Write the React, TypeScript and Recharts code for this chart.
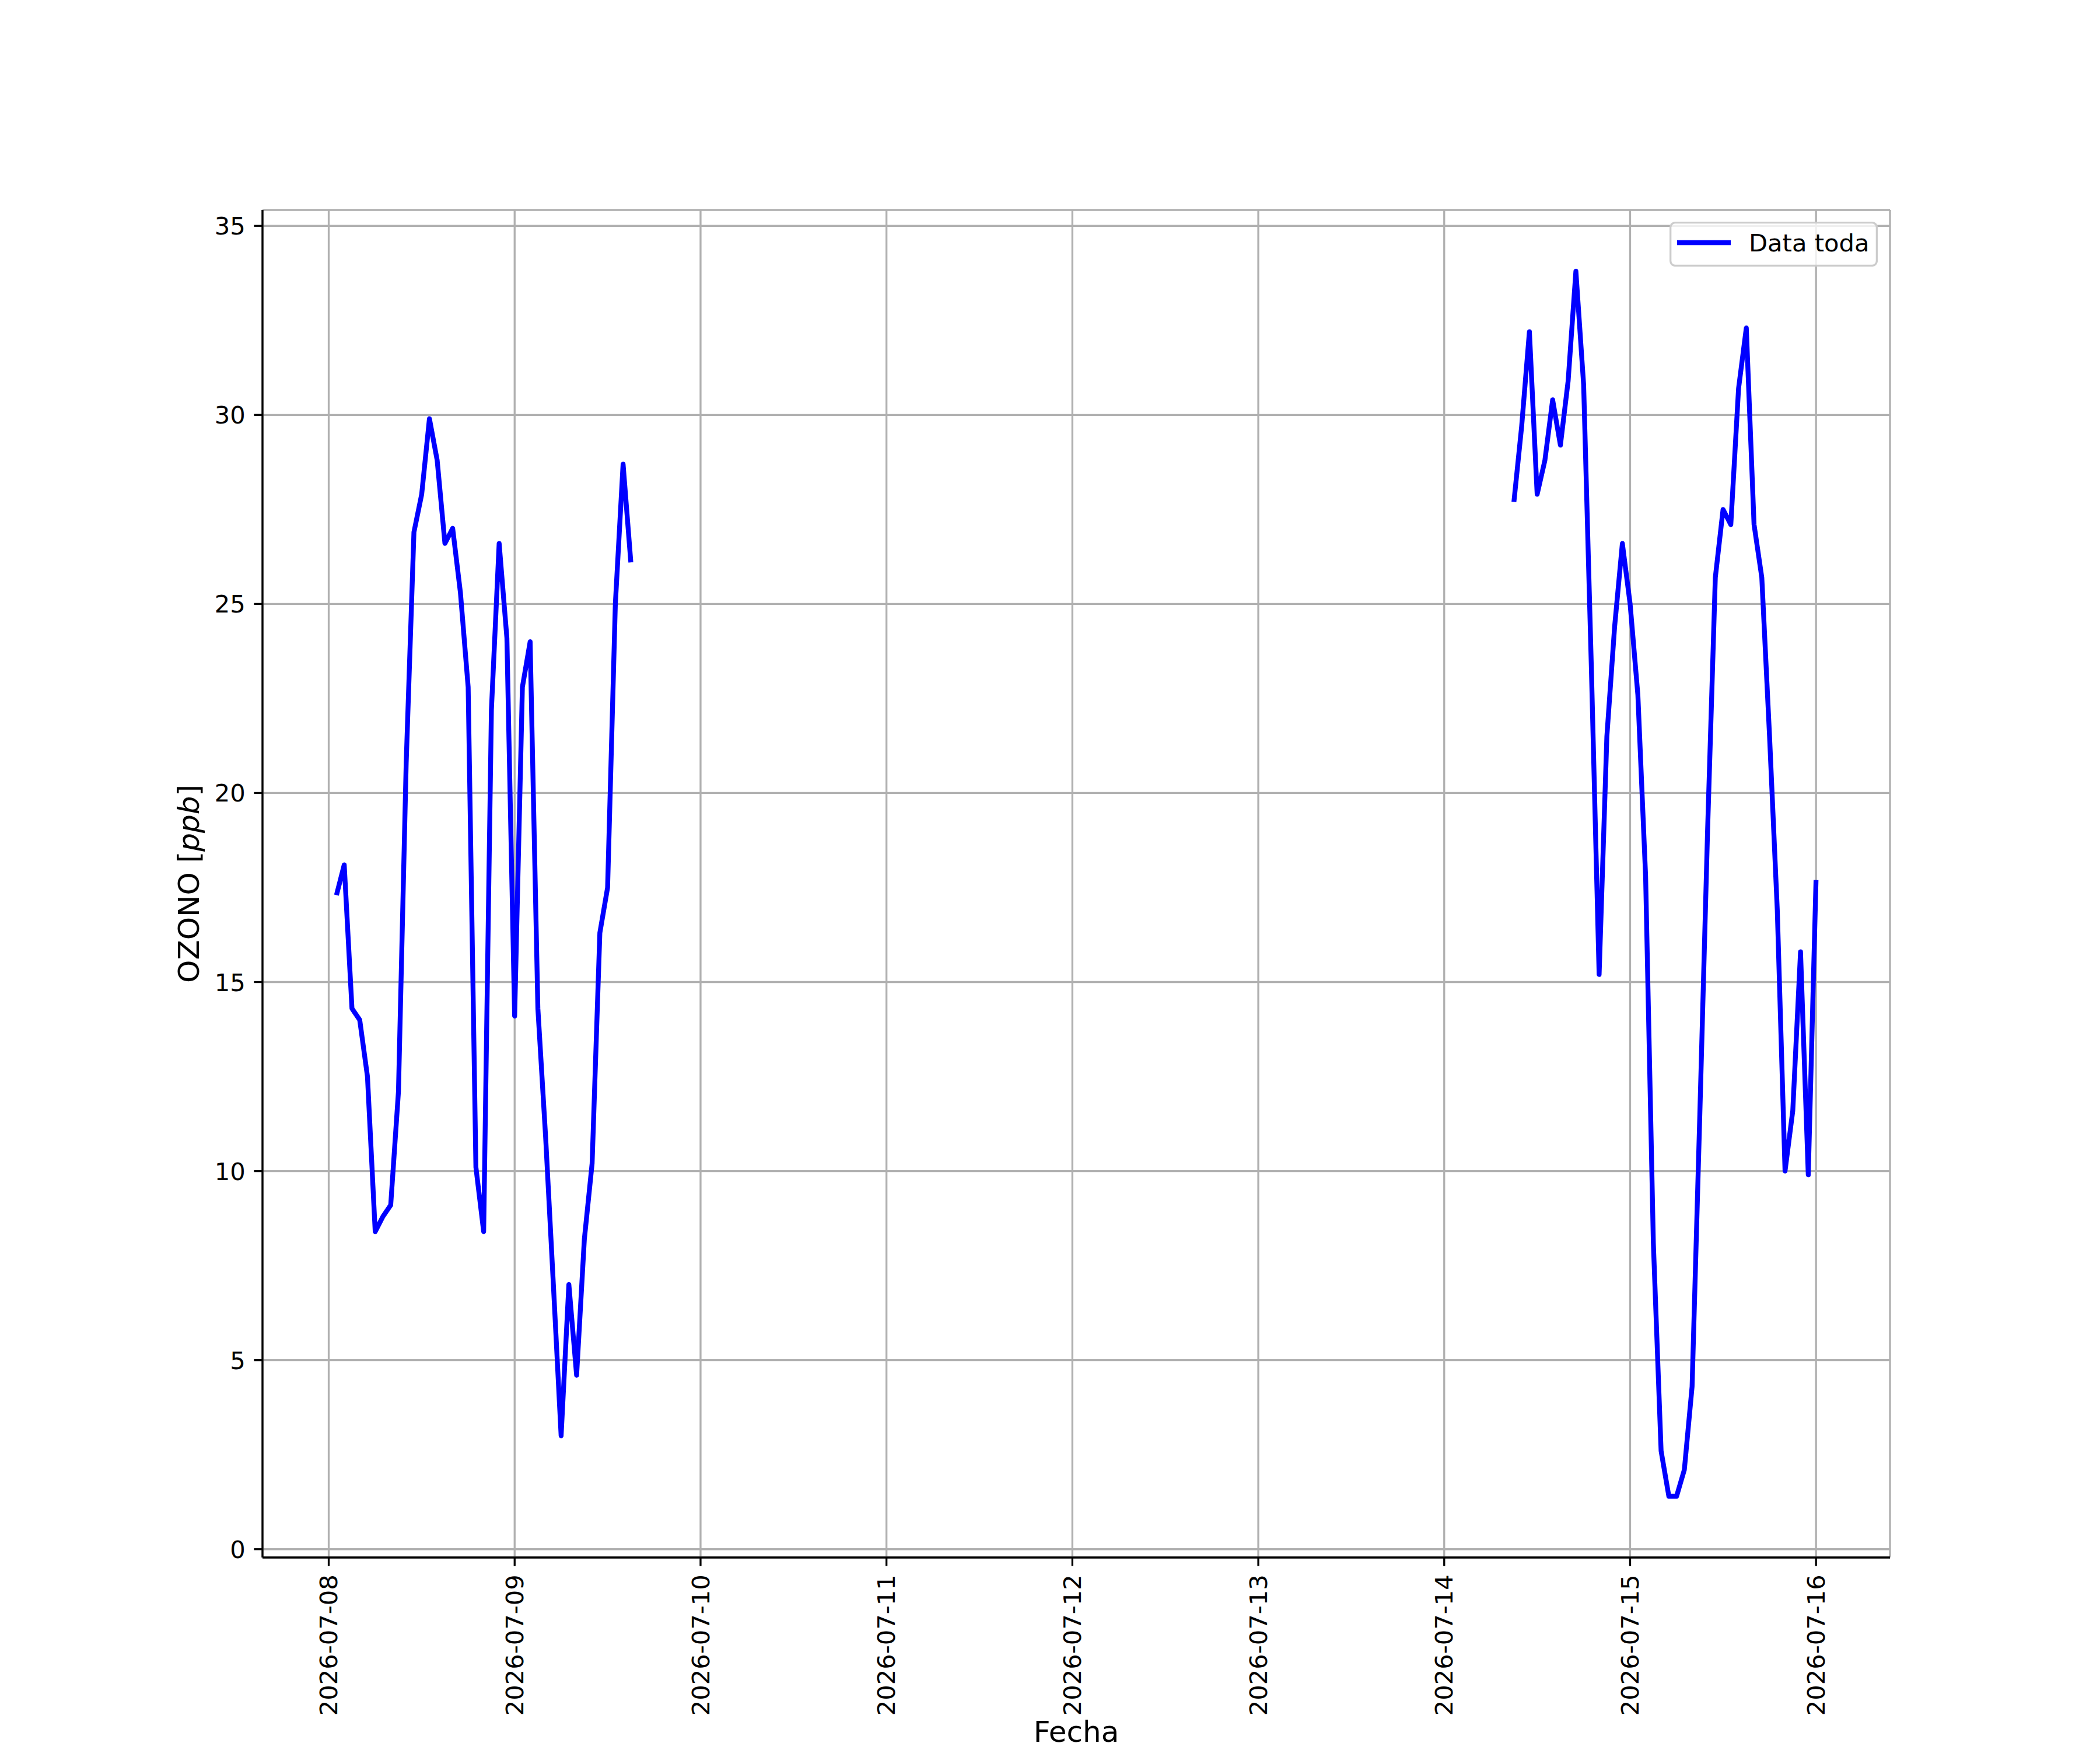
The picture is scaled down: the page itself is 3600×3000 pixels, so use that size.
import { LineChart, Line, XAxis, YAxis, CartesianGrid, Legend } from "recharts";

// x ticks: one per day, midnight
const DAY_LABELS = [
  "2026-07-08",
  "2026-07-09",
  "2026-07-10",
  "2026-07-11",
  "2026-07-12",
  "2026-07-13",
  "2026-07-14",
  "2026-07-15",
  "2026-07-16",
];
const Y_TICKS = [0, 5, 10, 15, 20, 25, 30, 35];

// hourly readings, hour counted from 2026-07-08 00:00
// run 1: 07-08 01:00 .. 07-09 15:00
const RUN1_START_HOUR = 1;
const RUN1_VALUES = [
  17.3, 18.1, 14.3, 14.0, 12.5, 8.4, 8.8, 9.1, 12.1, 20.8, 26.9, 27.9, 29.9,
  28.8, 26.6, 27.0, 25.3, 22.8, 10.1, 8.4, 22.2, 26.6, 24.1, 14.1, 22.8, 24.0,
  14.3, 10.9, 7.0, 3.0, 7.0, 4.6, 8.2, 10.2, 16.3, 17.5, 25.0, 28.7, 26.1,
];
// run 2: 07-14 09:00 .. 07-16 00:00
const RUN2_START_HOUR = 153;
const RUN2_VALUES = [
  27.7, 29.7, 32.2, 27.9, 28.8, 30.4, 29.2, 30.9, 33.8, 30.8, 23.3, 15.2, 21.5,
  24.4, 26.6, 25.0, 22.6, 17.8, 8.1, 2.6, 1.4, 1.4, 2.1, 4.3, 11.5, 19.0, 25.7,
  27.5, 27.1, 30.7, 32.3, 27.1, 25.7, 21.5, 16.9, 10.0, 11.6, 15.8, 9.9, 17.7,
];

const SERIES_NAME = "Data toda";
const X_LABEL = "Fecha";

type Row = { hour: number; ozono: number | null };

const data: Row[] = [
  ...RUN1_VALUES.map((v, i) => ({ hour: RUN1_START_HOUR + i, ozono: v })),
  // gap in the record -> break the line
  {
    hour: Math.round((RUN1_START_HOUR + RUN1_VALUES.length + RUN2_START_HOUR) / 2),
    ozono: null,
  },
  ...RUN2_VALUES.map((v, i) => ({ hour: RUN2_START_HOUR + i, ozono: v })),
];

const dayTicks = DAY_LABELS.map((_, i) => i * 24);

// matplotlib-style 5% margins
const allVals = [...RUN1_VALUES, ...RUN2_VALUES];
const firstHour = RUN1_START_HOUR;
const lastHour = RUN2_START_HOUR + RUN2_VALUES.length - 1;
const xPad = (lastHour - firstHour) * 0.05;
const yMin = Math.min(...allVals);
const yMax = Math.max(...allVals);
const yPad = (yMax - yMin) * 0.05;
const X_DOMAIN = [firstHour - xPad, lastHour + xPad];
const Y_DOMAIN = [yMin - yPad, yMax + yPad];

const FONT = "'DejaVu Sans', sans-serif";
const TICK_FS = 41.67;
const LABEL_FS = 50;
const LW = 3.33;

function XTick(props: any) {
  const { x, y, payload } = props;
  const label = DAY_LABELS[Math.round(payload.value / 24)];
  return (
    <text
      x={x}
      y={y}
      transform={`rotate(-90 ${x} ${y})`}
      textAnchor="end"
      dy="0.35em"
      fontSize={TICK_FS}
      fontFamily={FONT}
      fill="#000"
    >
      {label}
    </text>
  );
}

function YTick(props: any) {
  const { x, y, payload } = props;
  return (
    <text
      x={x}
      y={y}
      textAnchor="end"
      dy="0.36em"
      fontSize={TICK_FS}
      fontFamily={FONT}
      fill="#000"
    >
      {payload.value}
    </text>
  );
}

function LegendBox(props: any) {
  const items = props.payload ?? [];
  return (
    <svg width={357} height={77} style={{ display: "block" }}>
      <rect
        x={1.67}
        y={1.67}
        width={353.7}
        height={73.7}
        rx={8}
        fill="#ffffff"
        fillOpacity={0.8}
        stroke="#cccccc"
        strokeWidth={LW}
      />
      {items.map((it: any, i: number) => (
        <g key={i}>
          <line
            x1={13}
            x2={105}
            y1={36}
            y2={36}
            stroke={it.color}
            strokeWidth={8.33}
          />
          <text x={136} y={51} fontSize={TICK_FS} fontFamily={FONT} fill="#000">
            {it.value}
          </text>
        </g>
      ))}
    </svg>
  );
}

export default function App() {
  return (
    <div
      style={{
        position: "absolute",
        left: 0,
        top: 0,
        width: 3600,
        height: 3000,
        background: "#ffffff",
      }}
    >
      <LineChart
        width={3600}
        height={3000}
        data={data}
        margin={{ top: 360, right: 360, bottom: 30, left: 300 }}
      >
        <CartesianGrid stroke="#b0b0b0" strokeWidth={LW} />
        <XAxis
          dataKey="hour"
          type="number"
          domain={X_DOMAIN}
          allowDataOverflow
          ticks={dayTicks}
          interval={0}
          height={300}
          tick={<XTick />}
          tickSize={14.6}
          tickMargin={14.6}
          tickLine={{ stroke: "#000", strokeWidth: LW }}
          axisLine={{ stroke: "#000", strokeWidth: LW }}
        />
        <XAxis
          xAxisId="top"
          orientation="top"
          dataKey="hour"
          type="number"
          domain={X_DOMAIN}
          allowDataOverflow
          height={0}
          tick={false}
          tickLine={false}
          axisLine={{ stroke: "#000", strokeWidth: LW }}
        />
        <YAxis
          type="number"
          domain={Y_DOMAIN}
          allowDataOverflow
          ticks={Y_TICKS}
          interval={0}
          width={150}
          tick={<YTick />}
          tickSize={14.6}
          tickMargin={14.6}
          tickLine={{ stroke: "#000", strokeWidth: LW }}
          axisLine={{ stroke: "#000", strokeWidth: LW }}
        />
        <YAxis
          yAxisId="right"
          orientation="right"
          type="number"
          domain={Y_DOMAIN}
          allowDataOverflow
          width={0}
          tick={false}
          tickLine={false}
          axisLine={{ stroke: "#000", strokeWidth: LW }}
        />
        <Legend
          layout="vertical"
          align="center"
          verticalAlign="middle"
          wrapperStyle={{ left: 2862, top: 380, width: 357, height: 77 }}
          content={<LegendBox />}
        />
        <Line
          dataKey="ozono"
          name={SERIES_NAME}
          type="linear"
          stroke="#0000ff"
          strokeWidth={8.33}
          strokeLinejoin="round"
          dot={false}
          activeDot={false}
          connectNulls={false}
          isAnimationActive={false}
        />
      </LineChart>
      <svg
        width={3600}
        height={3000}
        style={{ position: "absolute", left: 0, top: 0, pointerEvents: "none" }}
      >
        <text
          x={1845}
          y={2986}
          textAnchor="middle"
          fontSize={LABEL_FS}
          fontFamily={FONT}
          fill="#000"
        >
          {X_LABEL}
        </text>
        <text
          x={341}
          y={1515}
          transform="rotate(-90 341 1515)"
          textAnchor="middle"
          fontSize={LABEL_FS}
          fontFamily={FONT}
          fill="#000"
        >
          OZONO [<tspan fontStyle="italic">ppb</tspan>]
        </text>
      </svg>
    </div>
  );
}
